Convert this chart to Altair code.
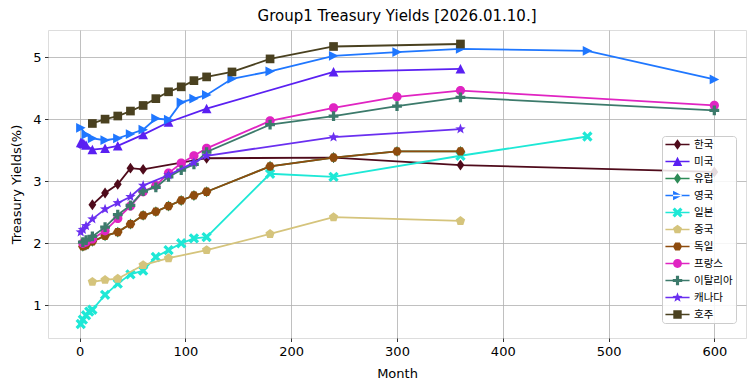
import math
import altair as alt
import pandas as pd

# ---------------- data ----------------
countries = ["한국", "미국", "유럽", "영국", "일본", "중국", "독일", "프랑스", "이탈리아", "캐나다", "호주"]

kr_months = [12, 24, 36, 48, 60, 120, 240, 360, 600]
kr_yields = [2.62, 2.81, 2.95, 3.21, 3.19, 3.37, 3.38, 3.26, 3.15]

us_months = [1, 2, 3, 4, 6, 12, 24, 36, 60, 84, 120, 240, 360]
us_yields = [3.62, 3.62, 3.61, 3.60, 3.58, 3.51, 3.53, 3.57, 3.75, 3.95, 4.17, 4.76, 4.81]

eu_months = [3, 6, 12, 24, 36, 48, 60, 72, 84, 96, 108, 120, 180, 240, 300, 360]
eu_yields = [1.95, 1.97, 2.03, 2.12, 2.18, 2.31, 2.45, 2.51, 2.60, 2.69, 2.77, 2.83, 3.24, 3.38, 3.48, 3.48]

uk_months = [1, 6, 12, 24, 36, 48, 60, 72, 84, 96, 108, 120, 144, 180, 240, 300, 360, 480, 600]
uk_yields = [3.86, 3.75, 3.69, 3.66, 3.69, 3.76, 3.83, 4.01, 3.99, 4.27, 4.33, 4.39, 4.65, 4.77, 5.02, 5.08, 5.13, 5.10, 4.64]

jp_months = [1, 3, 6, 9, 12, 24, 36, 48, 60, 72, 84, 96, 108, 120, 180, 240, 360, 480]
jp_yields = [0.70, 0.77, 0.84, 0.90, 0.93, 1.17, 1.35, 1.50, 1.56, 1.78, 1.89, 2.00, 2.08, 2.10, 3.12, 3.07, 3.41, 3.72]

cn_months = [12, 24, 36, 60, 84, 120, 180, 240, 360]
cn_yields = [1.38, 1.41, 1.43, 1.65, 1.76, 1.89, 2.15, 2.42, 2.36]

de_months = [3, 6, 12, 24, 36, 48, 60, 72, 84, 96, 108, 120, 180, 240, 300, 360]
de_yields = [1.95, 1.97, 2.03, 2.12, 2.18, 2.31, 2.45, 2.51, 2.60, 2.69, 2.77, 2.83, 3.24, 3.38, 3.48, 3.48]

fr_months = [3, 6, 12, 24, 36, 48, 60, 72, 84, 96, 108, 120, 180, 240, 300, 360, 600]
fr_yields = [2.00, 2.02, 2.07, 2.20, 2.40, 2.60, 2.83, 2.93, 3.13, 3.29, 3.41, 3.53, 3.97, 4.18, 4.36, 4.46, 4.22]

it_months = [3, 6, 12, 24, 36, 48, 60, 72, 84, 96, 108, 120, 180, 240, 300, 360, 600]
it_yields = [2.02, 2.05, 2.11, 2.26, 2.46, 2.61, 2.84, 2.90, 3.07, 3.18, 3.27, 3.47, 3.91, 4.05, 4.21, 4.35, 4.14]

ca_months = [1, 3, 6, 12, 24, 36, 48, 60, 84, 108, 120, 240, 360]
ca_yields = [2.18, 2.22, 2.28, 2.39, 2.55, 2.65, 2.75, 2.93, 3.10, 3.30, 3.41, 3.71, 3.84]

au_months = [12, 24, 36, 48, 60, 72, 84, 96, 108, 120, 144, 180, 240, 360]
au_yields = [3.93, 4.00, 4.05, 4.13, 4.22, 4.33, 4.44, 4.52, 4.62, 4.68, 4.76, 4.97, 5.17, 5.21]

x_ticks = [0, 100, 200, 300, 400, 500, 600]
y_ticks = [1, 2, 3, 4, 5]

series = {
    "한국": (kr_months, kr_yields),
    "미국": (us_months, us_yields),
    "유럽": (eu_months, eu_yields),
    "영국": (uk_months, uk_yields),
    "일본": (jp_months, jp_yields),
    "중국": (cn_months, cn_yields),
    "독일": (de_months, de_yields),
    "프랑스": (fr_months, fr_yields),
    "이탈리아": (it_months, it_yields),
    "캐나다": (ca_months, ca_yields),
    "호주": (au_months, au_yields),
}

rows = []
for name in countries:
    ms, ys = series[name]
    for m, y in zip(ms, ys):
        rows.append({"country": name, "month": m, "yield": y})
df = pd.DataFrame(rows)

# ---------------- styles ----------------
colors = ["#4f0b1b", "#5a20f2", "#2e8b57", "#1f77ff", "#1ee8d6", "#d5c47c",
          "#8e4c0e", "#e024c2", "#3c7a6b", "#6a2ff0", "#4a4120"]


def poly(pts):
    return "M" + "L".join(f"{x:.3f},{y:.3f}" for x, y in pts) + "Z"


def regular(n, r, rot):
    return [(r * math.cos(rot + 2 * math.pi * k / n), r * math.sin(rot + 2 * math.pi * k / n)) for k in range(n)]


def plus_pts(t, a):
    return [(-t, -a), (t, -a), (t, -t), (a, -t), (a, t), (t, t), (t, a), (-t, a), (-t, t), (-a, t), (-a, -t), (-t, -t)]


def rot45(pts):
    c = math.sqrt(0.5)
    return [((x - y) * c, (x + y) * c) for x, y in pts]


def star_pts(ro, ri):
    pts = []
    for k in range(10):
        r = ro if k % 2 == 0 else ri
        ang = -math.pi / 2 + k * math.pi / 5
        pts.append((r * math.cos(ang), r * math.sin(ang)))
    return pts


def circle_path(r):
    return f"M{r},0A{r},{r},0,1,1,{-r},0A{r},{r},0,1,1,{r},0Z"


marker_pts = {
    "diamond": [(0, -1.0), (0.72, 0), (0, 1.0), (-0.72, 0)],
    "tri_up": [(0, -0.9), (0.9, 0.85), (-0.9, 0.85)],
    "tri_right": [(0.9, 0), (-0.85, -0.9), (-0.85, 0.9)],
    "x": rot45(plus_pts(0.3, 1.05)),
    "pentagon": regular(5, 0.9, -math.pi / 2),
    "hexagon": regular(6, 0.88, 0),
    "plus": plus_pts(0.3, 0.9),
    "star": star_pts(1.0, 0.42),
    "square": [(-0.8, -0.8), (0.8, -0.8), (0.8, 0.8), (-0.8, 0.8)],
}
shape_keys = ["diamond", "tri_up", "diamond", "tri_right", "x", "pentagon",
              "hexagon", "circle", "plus", "star", "square"]


def marker_path(key, scale=1.0):
    if key == "circle":
        return circle_path(0.85 * scale)
    return poly([(x * scale, y * scale) for x, y in marker_pts[key]])


line_seg = "M-2.3,-0.14H2.3V0.14H-2.3Z"
legend_paths = [line_seg + marker_path(k) for k in shape_keys]

x_scale = alt.Scale(domain=[-29.95, 629.95], nice=False, zero=False)
y_scale = alt.Scale(domain=[0.4745, 5.4355], nice=False, zero=False)

axis_common = dict(grid=True, gridColor="#b0b0b0", gridWidth=0.8, domain=False,
                   tickColor="black", tickSize=3.5, tickWidth=0.8,
                   labelFont="DejaVu Sans", labelFontSize=13, labelColor="black", labelPadding=3.5,
                   titleFont="DejaVu Sans", titleFontSize=13, titleFontWeight="normal", titleColor="black")
x_axis = alt.Axis(values=x_ticks, title="Month", titlePadding=9, labelFlush=False, **axis_common)
y_axis = alt.Axis(values=y_ticks, title="Treasury Yields(%)", titlePadding=9, **axis_common)

enc = dict(
    x=alt.X("month:Q", scale=x_scale, axis=x_axis),
    y=alt.Y("yield:Q", scale=y_scale, axis=y_axis),
)

base = alt.Chart(df)
layers = []
for name, col, key in zip(countries, colors, shape_keys):
    sub = base.transform_filter(alt.datum.country == name)
    layers.append(sub.mark_line(color=col, strokeWidth=1.8).encode(**enc))
    layers.append(sub.mark_point(filled=True, color=col, shape=marker_path(key), size=118,
                                 opacity=1).encode(**enc))

legend_cfg = dict(orient="none", legendX=614, legendY=106, title=None,
                  padding=3, fillColor="rgba(255,255,255,0.85)", strokeColor="#cccccc",
                  cornerRadius=3, labelFont="Noto Sans CJK KR", labelFontSize=10.5, labelColor="black",
                  symbolSize=110, symbolStrokeWidth=0, rowPadding=6, labelOffset=11, symbolOffset=7)

legend_layer = base.transform_filter("false").mark_point(filled=True, opacity=1).encode(
    x=enc["x"], y=enc["y"],
    color=alt.Color("country:N", scale=alt.Scale(domain=countries, range=colors),
                    legend=alt.Legend(**legend_cfg)),
    shape=alt.Shape("country:N", scale=alt.Scale(domain=countries, range=legend_paths),
                    legend=alt.Legend(**legend_cfg)),
)

chart = alt.layer(*layers, legend_layer).properties(
    width=698, height=308,
    title=alt.TitleParams("Group1 Treasury Yields [2026.01.10.]", font="DejaVu Sans", fontSize=15,
                          fontWeight="normal", color="black", anchor="middle", offset=6),
    autosize=alt.AutoSizeParams(type="none"),
    padding={"left": 40, "top": 22, "right": 1, "bottom": 45},
).configure_view(stroke="black", strokeWidth=1).configure(background="white")

chart.save("out.html", embed_options={"renderer": "svg", "actions": False})
